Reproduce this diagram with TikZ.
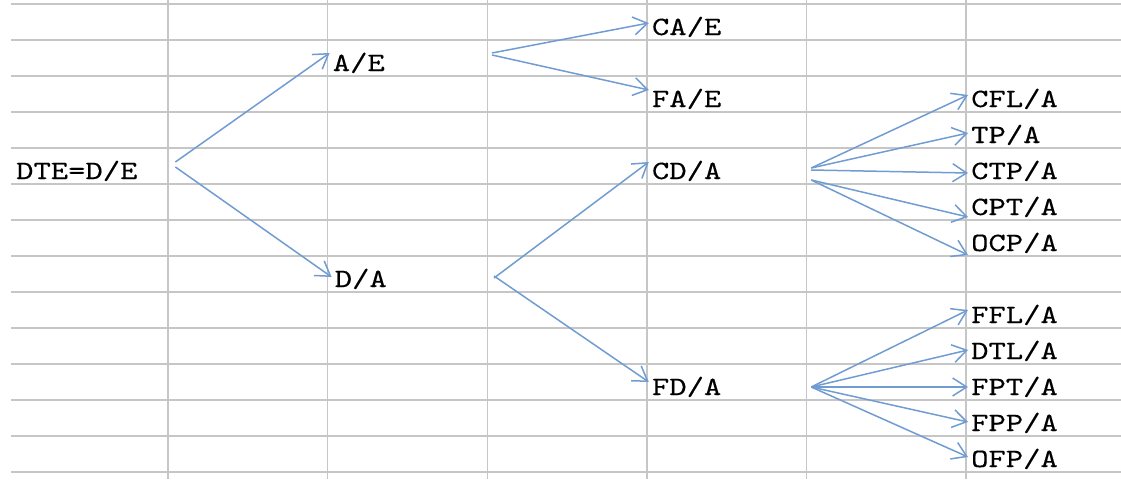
\documentclass[tikz,border=0pt]{standalone}
\usepackage{fontspec}
\setmonofont{lmmono10-regular}[Extension=.otf, FakeStretch=1.25, FakeBold=0.3]
\usetikzlibrary{arrows.meta}
\definecolor{gridgray}{RGB}{198,198,198}
\definecolor{linkblue}{RGB}{112,156,210}
\begin{document}
\begin{tikzpicture}[x=1pt, y=-1pt,
  cell/.style={anchor=west, inner xsep=3pt, inner ysep=0pt, text width=156pt, text height=16pt, text depth=0pt, align=left, font=\ttfamily\fontsize{26.4}{28}\selectfont},
  link/.style={linkblue, line width=1.5pt, -{Straight Barb[length=14pt, width=18pt, line width=1.5pt]}}]
  \useasboundingbox (0,0) rectangle (1121,479);
  % spreadsheet grid
  \foreach \r in {0,...,13} \draw[gridgray, line width=1.4pt] (11,4+36*\r) -- (1121,4+36*\r);
  \foreach \c in {0,...,5} \draw[gridgray, line width=1.4pt] (168+159.6*\c,0) -- (168+159.6*\c,479);
  % first levels
  \node[cell] (dte) at (13,171) {DTE=D/E};
  \node[cell] (ae) at (329.6,63) {A/E};
  \node[cell] (da) at (331.6,279) {D/A};
  \node[cell] (cae) at (648.8,27) {CA/E};
  \node[cell] (fae) at (648.8,99) {FA/E};
  \node[cell] (cda) at (648.8,171) {CD/A};
  \node[cell] (fda) at (648.8,387) {FD/A};
  % last column
  \node[cell] (cfl) at (968,99) {CFL/A};
  \node[cell] (tp) at (968,135) {TP/A};
  \node[cell] (ctp) at (968,171) {CTP/A};
  \node[cell] (cpt) at (968,207) {CPT/A};
  \node[cell] (ocp) at (968,243) {OCP/A};
  \node[cell] (ffl) at (968,315) {FFL/A};
  \node[cell] (dtl) at (968,351) {DTL/A};
  \node[cell] (fpt) at (968,387) {FPT/A};
  \node[cell] (fpp) at (968,423) {FPP/A};
  \node[cell] (ofp) at (968,459) {OFP/A};
  % branches
  \draw[link] ([yshift=9pt]dte.east) -- ([yshift=10pt]ae.west);
  \draw[link] ([yshift=4pt]dte.east) -- ([yshift=2pt]da.west);
  \draw[link] ([yshift=10pt]ae.east) -- ([yshift=4pt]cae.west);
  \draw[link] ([yshift=8pt]ae.east) -- ([yshift=9pt]fae.west);
  \draw[link] ([yshift=1pt]da.east) -- ([yshift=9pt]cda.west);
  \draw[link] ([yshift=3pt]da.east) -- ([yshift=5pt]fda.west);
  \foreach \t/\s/\e in {cfl/3/4, tp/3/2, ctp/1/-2, cpt/-9/-10, ocp/-9/-12}
    \draw[link] ([yshift=\s pt]cda.east) -- ([yshift=\e pt]\t.west);
  \foreach \t/\e in {ffl/5, dtl/1, fpt/0, fpp/1, ofp/2}
    \draw[link] (fda.east) -- ([yshift=\e pt]\t.west);
\end{tikzpicture}
\end{document}
